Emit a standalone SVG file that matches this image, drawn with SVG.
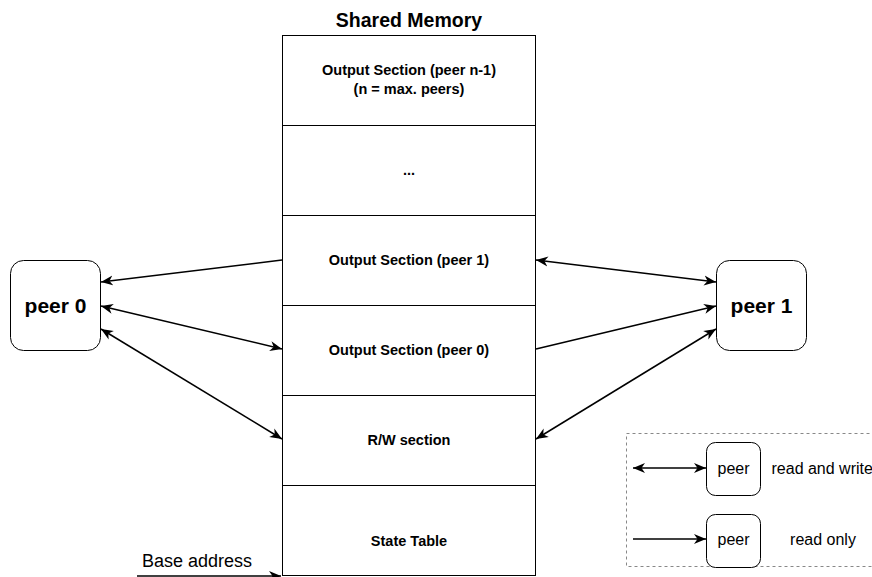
<svg xmlns="http://www.w3.org/2000/svg" width="872" height="577" viewBox="0 0 872 577">
<style>
.sec{fill:#fff;stroke:#000;stroke-width:1}
.lbl{font-family:"Liberation Sans",Arial,sans-serif;font-weight:bold;font-size:14.5px;text-anchor:middle;fill:#000}
.peer{fill:#fff;stroke:#000;stroke-width:1}
.pl{font-family:"Liberation Sans",Arial,sans-serif;font-weight:bold;font-size:21px;text-anchor:middle;fill:#000}
.reg{font-family:"Liberation Sans",Arial,sans-serif;font-size:16px;fill:#000}
.edge{fill:none;stroke:#000;stroke-width:1.5}
</style>
<defs>
<marker id="ah" markerUnits="userSpaceOnUse" markerWidth="13" markerHeight="11" refX="12" refY="5.5" orient="auto-start-reverse" viewBox="0 0 13 11">
<path d="M0,0.5 L12,5.5 L0,10.5 L3.5,5.5 Z" fill="#000"/>
</marker>
</defs>
<text x="409" y="26.5" font-family="Liberation Sans,Arial,sans-serif" font-weight="bold" font-size="19.5" text-anchor="middle">Shared Memory</text>
<g id="memory">
<rect class="sec" x="282.5" y="35.5" width="253" height="90"/>
<text class="lbl" x="409" y="75">Output Section (peer n-1)</text>
<text class="lbl" x="409" y="93.5">(n = max. peers)</text>
<rect class="sec" x="282.5" y="125.5" width="253" height="90"/>
<text class="lbl" x="409" y="175">...</text>
<rect class="sec" x="282.5" y="215.5" width="253" height="90"/>
<text class="lbl" x="409" y="265">Output Section (peer 1)</text>
<rect class="sec" x="282.5" y="305.5" width="253" height="90"/>
<text class="lbl" x="409" y="355">Output Section (peer 0)</text>
<rect class="sec" x="282.5" y="395.5" width="253" height="90"/>
<text class="lbl" x="409" y="445">R/W section</text>
<rect class="sec" x="282.5" y="485.5" width="253" height="90"/>
<text class="lbl" x="409" y="546">State Table</text>
</g>
<g id="peer0">
<rect class="peer" x="10.5" y="260.5" width="90" height="90" rx="13"/>
<text class="pl" x="55.5" y="313">peer 0</text>
</g>
<g id="peer1">
<rect class="peer" x="716.5" y="260.5" width="90" height="90" rx="13"/>
<text class="pl" x="761.5" y="313">peer 1</text>
</g>
<g id="legend">
<rect x="626.5" y="433.5" width="260" height="133" fill="none" stroke="#888" stroke-dasharray="3,3"/>
<rect class="peer" x="706.5" y="442.5" width="54" height="53" rx="9"/>
<text class="reg" x="733.5" y="474" text-anchor="middle">peer</text>
<text class="reg" x="771.5" y="474">read and write</text>
<rect class="peer" x="706.5" y="514.5" width="54" height="53" rx="9"/>
<text class="reg" x="733.5" y="545" text-anchor="middle">peer</text>
<text class="reg" x="823" y="545" text-anchor="middle">read only</text>
</g>
<g id="base">
<text x="142" y="567" font-family="Liberation Sans,Arial,sans-serif" font-size="18">Base address</text>
</g>
<g id="connectors">
<line class="edge" x1="282" y1="260" x2="101" y2="282" marker-end="url(#ah)"/>
<line class="edge" x1="101" y1="306" x2="282" y2="349" marker-start="url(#ah)" marker-end="url(#ah)"/>
<line class="edge" x1="101" y1="329" x2="282" y2="439" marker-start="url(#ah)" marker-end="url(#ah)"/>
<line class="edge" x1="536" y1="260" x2="716" y2="282" marker-start="url(#ah)" marker-end="url(#ah)"/>
<line class="edge" x1="536" y1="349" x2="716" y2="306" marker-end="url(#ah)"/>
<line class="edge" x1="536" y1="439" x2="716" y2="329" marker-start="url(#ah)" marker-end="url(#ah)"/>
<line class="edge" x1="633" y1="468" x2="706" y2="468" marker-start="url(#ah)" marker-end="url(#ah)"/>
<line class="edge" x1="633" y1="539" x2="706" y2="539" marker-end="url(#ah)"/>
<line class="edge" x1="137" y1="576" x2="281" y2="576" marker-end="url(#ah)"/>
</g>
</svg>
